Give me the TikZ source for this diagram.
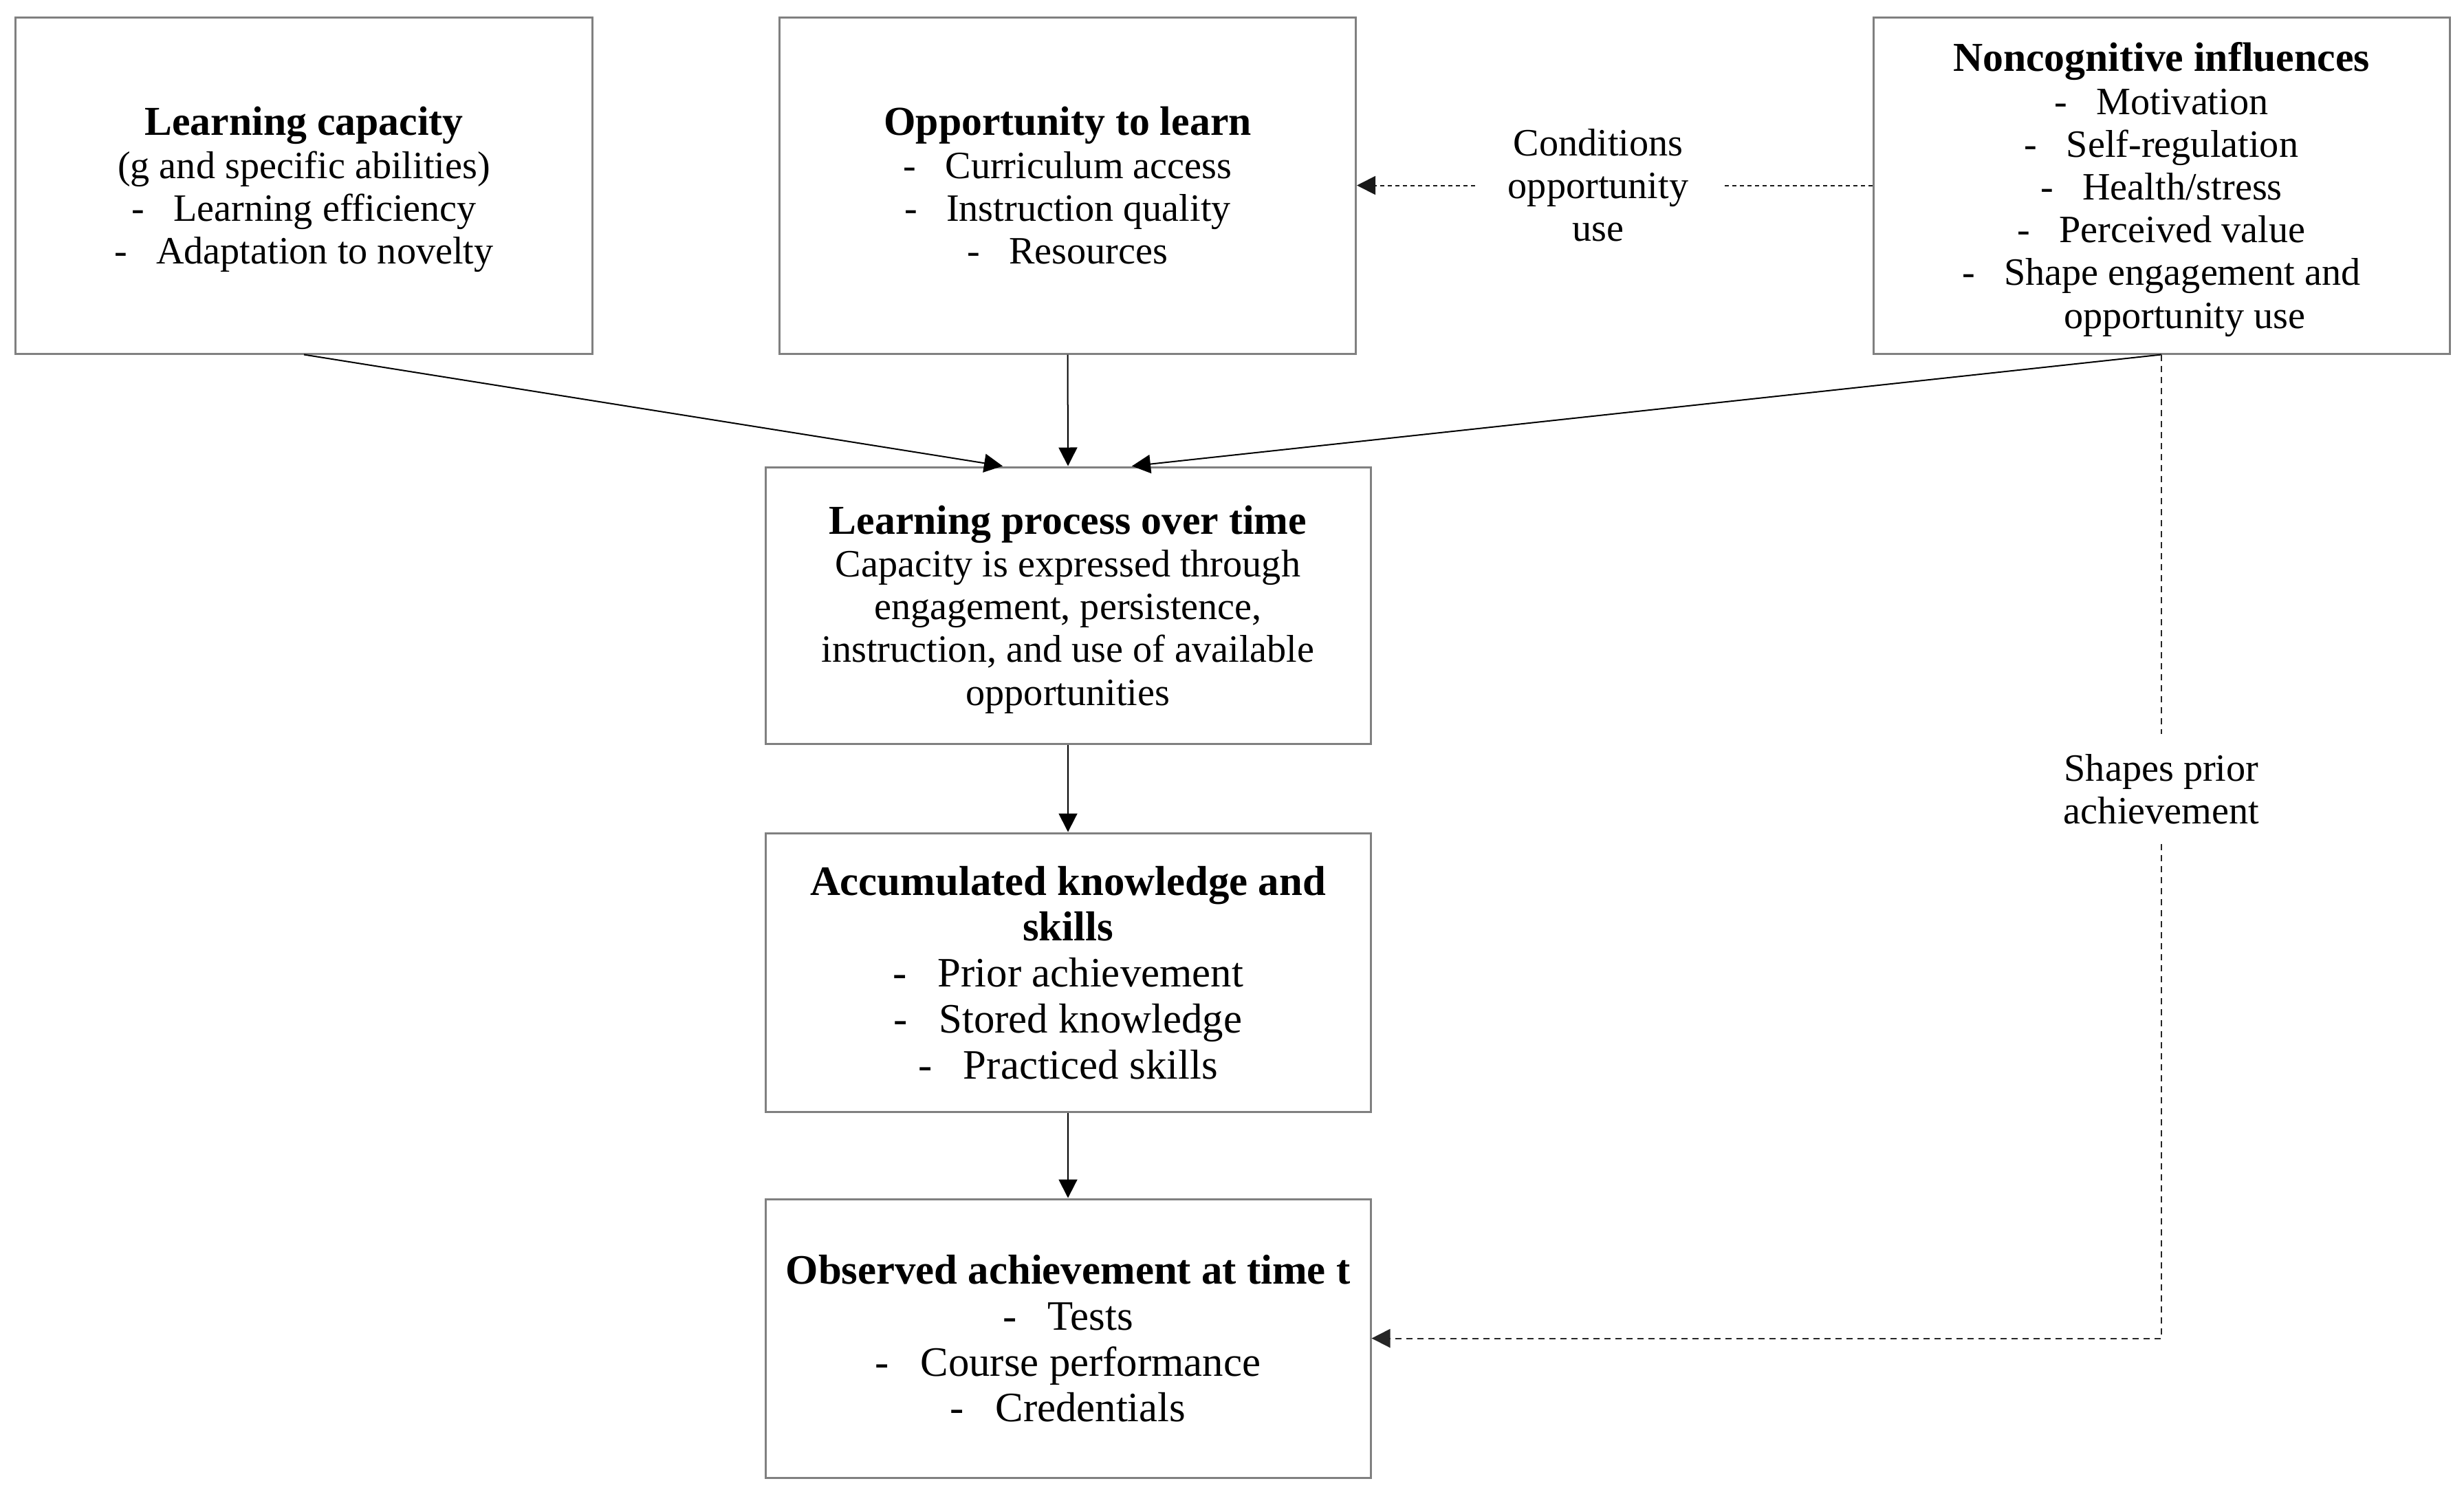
\documentclass[tikz,border=0pt]{standalone}
\usepackage{fontspec}
\setmainfont{Liberation Serif}
\usetikzlibrary{arrows.meta,calc}
\newcommand{\boxtitle}[1]{{\fontsize{17}{17.7}\selectfont\bfseries #1}}
\newcommand{\dsh}{-\hspace{0.75em}}

\begin{document}
\begin{tikzpicture}[
    box/.style={draw=black!50, line width=0.03cm, align=center, inner sep=0pt, text depth=0pt,
      minimum width=8.38cm, minimum height=4.89cm, font=\fontsize{16}{17.7}\selectfont},
    midbox/.style={box, minimum width=8.8cm, minimum height=4.02cm},
    lowbox/.style={midbox, minimum height=4.05cm, font=\fontsize{17.3}{19}\selectfont},
    lbl/.style={align=center, font=\fontsize{16}{17.7}\selectfont},
    arr/.style={line width=0.02cm, -{Triangle[length=0.27cm,width=0.27cm]}},
    dline/.style={black!90, line width=0.02cm, dash pattern=on 0.06cm off 0.05cm},
    lline/.style={black!85, line width=0.02cm, dash pattern=on 0.09cm off 0.07cm}
  ]
    \useasboundingbox (0,0) rectangle (35.83,-21.65);
    % top row
    \node[box] (cap) at (4.42,-2.695) {\boxtitle{Learning capacity}\\(g and specific abilities)\\\dsh Learning efficiency\\\dsh Adaptation to novelty};
    \node[box] (opp) at (15.525,-2.695) {\boxtitle{Opportunity to learn}\\\dsh Curriculum access\\\dsh Instruction quality\\\dsh Resources};
    \node[box] (nc) at (31.43,-2.695) {\boxtitle{Noncognitive influences}\\\dsh Motivation\\\dsh Self-regulation\\\dsh Health/stress\\\dsh Perceived value\\\dsh Shape engagement and\\\hspace*{1.2em}opportunity use};
    % middle column
    \node[midbox] (proc) at (15.53,-8.80) {\boxtitle{Learning process over time}\\Capacity is expressed through\\engagement, persistence,\\instruction, and use of available\\opportunities};
    \node[lowbox] (acc) at (15.53,-14.135) {\textbf{Accumulated knowledge and}\\\textbf{skills}\\\dsh Prior achievement\\\dsh Stored knowledge\\\dsh Practiced skills};
    \node[lowbox] (obs) at (15.53,-19.455) {\textbf{Observed achievement at time t}\\\dsh Tests\\\dsh Course performance\\\dsh Credentials};
    % labels on dashed paths
    \node[lbl, inner xsep=0.47cm, inner ysep=0pt] (cond) at (23.24,-2.695) {Conditions\\opportunity\\use};
    \node[lbl, inner xsep=0pt, inner ysep=0.28cm] (shp) at (31.43,-11.47) {Shapes prior\\achievement};
    % solid arrows
    \draw[arr] (cap.south) -- ($(proc.north)+(-0.95,0)$);
    \draw[arr] (opp.south) -- (proc.north);
    \draw[arr] (nc.south) -- ($(proc.north)+(0.93,0)$);
    \draw[arr] (proc.south) -- (acc.north);
    \draw[arr] (acc.south) -- (obs.north);
    % dashed arrows
    \draw[dline] (nc.west) -- (cond.east);
    \draw[dline, arr] (cond.west) -- (opp.east);
    \draw[lline] (nc.south) -- (shp.north);
    \draw[lline, arr] (shp.south) |- (obs.east);
  \end{tikzpicture}
\end{document}
